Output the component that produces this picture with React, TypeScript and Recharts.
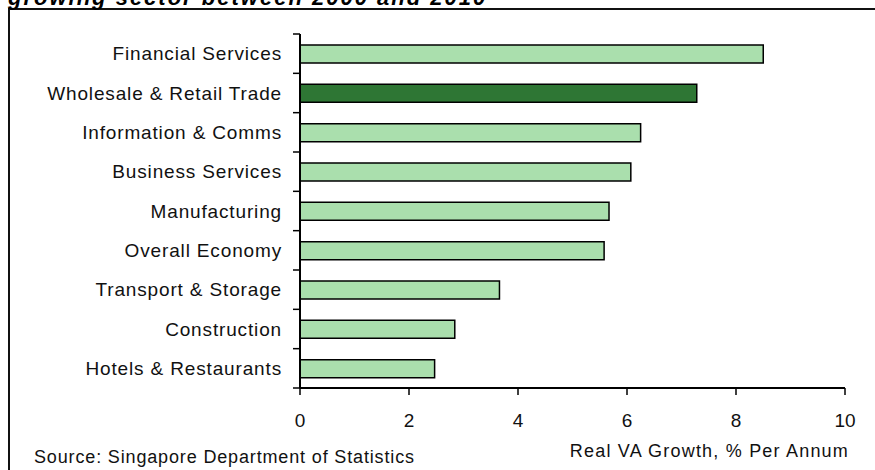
import React from 'react';
import { BarChart, Bar, XAxis, YAxis, Cell } from 'recharts';

// sectors, top to bottom as drawn
const sectors = [
  'Financial Services',
  'Wholesale & Retail Trade',
  'Information & Comms',
  'Business Services',
  'Manufacturing',
  'Overall Economy',
  'Transport & Storage',
  'Construction',
  'Hotels & Restaurants'
];

// real value-added growth, % per annum
const growth = [8.5, 7.28, 6.25, 6.07, 5.67, 5.58, 3.66, 2.84, 2.47];

const highlighted = 'Wholesale & Retail Trade';
const xTicks = [0, 2, 4, 6, 8, 10];

const FONT = '"Liberation Sans", Arial, sans-serif';

const data = sectors.map((name, i) => ({ name, value: growth[i] }));

// category label plus tick marks on the band edges (not centres)
const CategoryTick = (props: any) => {
  const { x, y, payload, index, visibleTicksCount } = props;
  const half = payload && payload.offset ? payload.offset : 19.7;
  return (
    <g>
      <text
        x={x}
        y={y}
        textAnchor="end"
        dominantBaseline="central"
        fill="#111"
        fontSize={19}
        fontFamily={FONT}
        style={{ letterSpacing: '0.85px' }}
      >
        {payload.value}
      </text>
      <line x1={x + 11} x2={x + 18} y1={y - half} y2={y - half} stroke="#000" strokeWidth={1.5} />
      {index === visibleTicksCount - 1 && (
        <line x1={x + 11} x2={x + 18} y1={y + half} y2={y + half} stroke="#000" strokeWidth={1.5} />
      )}
    </g>
  );
};

export default function App() {
  return (
    <div
      style={{
        position: 'fixed',
        left: 0,
        top: 0,
        width: 875,
        height: 470,
        overflow: 'hidden',
        background: '#fff',
        fontFamily: FONT
      }}
    >
      {/* frame of the exhibit, runs off the right and bottom edges */}
      <div
        style={{
          position: 'absolute',
          left: 8,
          top: 8,
          width: 900,
          height: 500,
          border: '2px solid #111'
        }}
      />

      <div style={{ position: 'absolute', left: 0, top: 0 }}>
        <BarChart
          width={875}
          height={470}
          data={data}
          layout="vertical"
          margin={{ top: 34, right: 30, bottom: 0, left: 0 }}
        >
          <XAxis
            type="number"
            domain={[0, 10]}
            ticks={xTicks}
            interval={0}
            height={82}
            tickSize={7}
            tickMargin={19}
            axisLine={{ stroke: '#000', strokeWidth: 2 }}
            tickLine={{ stroke: '#000', strokeWidth: 1.5 }}
            tick={{ fill: '#111', fontSize: 19, fontFamily: FONT }}
          />
          <YAxis
            type="category"
            dataKey="name"
            width={300}
            tickSize={7}
            tickMargin={11}
            interval={0}
            tickLine={false}
            axisLine={{ stroke: '#000', strokeWidth: 2 }}
            tick={<CategoryTick />}
          />
          <Bar dataKey="value" barSize={18} stroke="#000" strokeWidth={1.5} isAnimationActive={false}>
            {data.map(d => (
              <Cell key={d.name} fill={d.name === highlighted ? '#2e7634' : '#aadfad'} />
            ))}
          </Bar>
        </BarChart>
      </div>

      <svg
        width={875}
        height={470}
        style={{ position: 'absolute', left: 0, top: 0, pointerEvents: 'none' }}
      >
        {/* title, mostly cut off by the top of the crop as in the source */}
        <text
          x={8}
          y={5}
          fontSize={22}
          fontWeight="bold"
          fontStyle="italic"
          fill="#000"
          fontFamily={FONT}
          style={{ letterSpacing: '2px' }}
        >
          growing sector between 2000 and 2010
        </text>
        <text x={34} y={463} fontSize={18} fill="#111" fontFamily={FONT} style={{ letterSpacing: '0.85px' }}>
          Source: Singapore Department of Statistics
        </text>
        <text
          x={849}
          y={457}
          fontSize={18}
          fill="#111"
          textAnchor="end"
          fontFamily={FONT}
          style={{ letterSpacing: '1.2px' }}
        >
          Real VA Growth, % Per Annum
        </text>
      </svg>
    </div>
  );
}
